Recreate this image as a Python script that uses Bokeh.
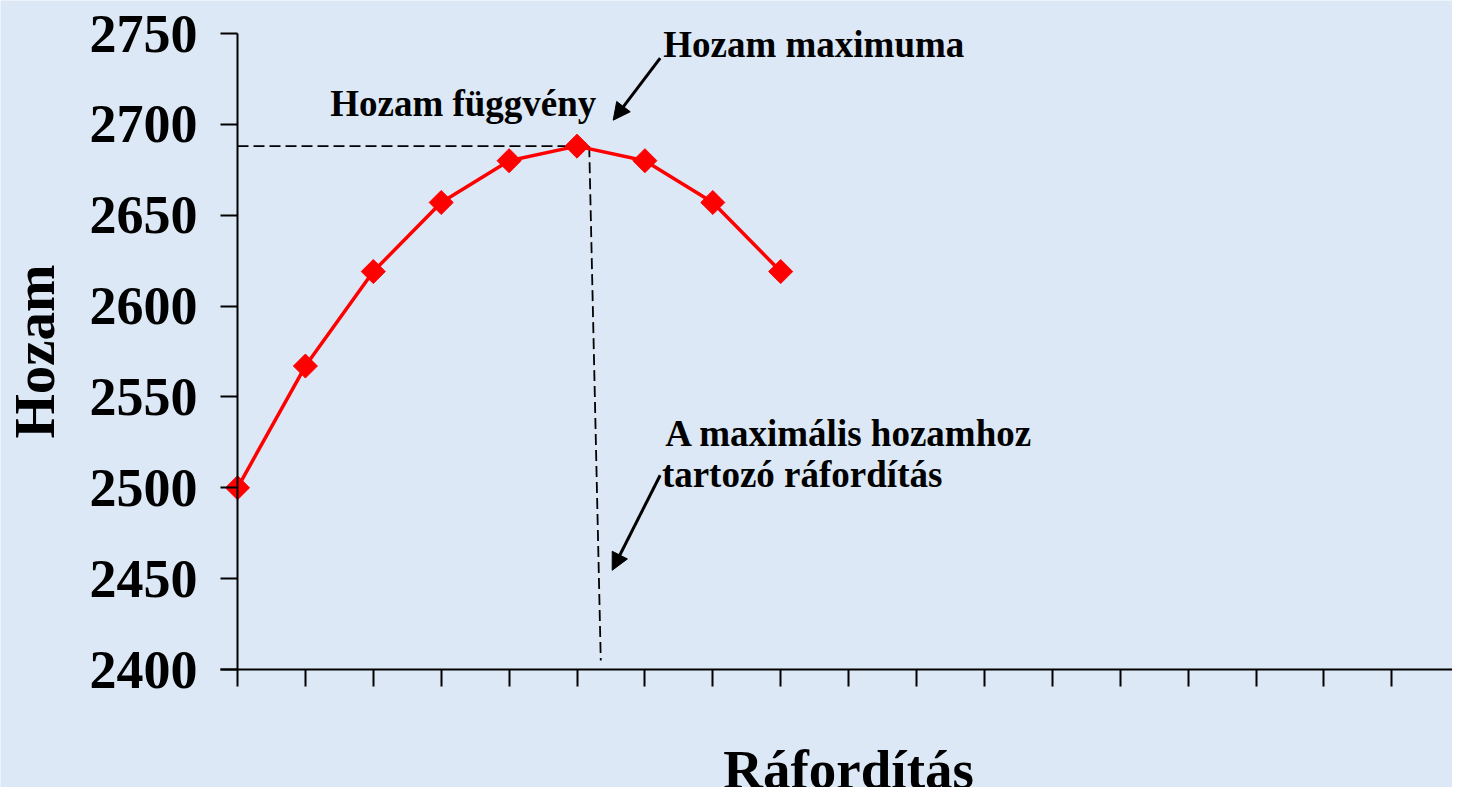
from bokeh.plotting import figure
from bokeh.models import FixedTicker, Label, Arrow, NormalHead, Range1d, CustomJSTickFormatter
from bokeh.embed import file_html
from bokeh.resources import INLINE
import math

# ---- data ----
raforditas = [0, 1, 2, 3, 4, 5, 6, 7, 8]
hozam = [2500, 2567, 2619, 2657, 2680, 2688, 2680, 2657, 2619]
x_ticks = list(range(0, 19))
y_ticks = [2400, 2450, 2500, 2550, 2600, 2650, 2700, 2750]
x_title = "Ráfordítás"
y_title = "Hozam"

# guide lines for the maximum (annotation)
peak_y = max(hozam)
guide_h_x = [0, 5.18]
guide_v_x = [5.18, 5.35]
guide_v_y = [peak_y, 2405]

FONT = "Liberation Serif"
BG = "#dce8f5"

W, H = 1452, 787
# layout: axis origin and scale (pixels)
X0_PX, XUNIT_PX = 237.0, 67.9
Y_TOP_PX, Y_BOT_PX = 33.0, 669.0
y_lo, y_hi = min(y_ticks), max(y_ticks)
YUNIT_PX = (Y_BOT_PX - Y_TOP_PX) / (y_hi - y_lo)

def xd(px):
    return (px - X0_PX) / XUNIT_PX

def yd(py):
    return y_hi - (py - Y_TOP_PX) / YUNIT_PX

# the frame covers the whole canvas; axes are placed at x=0 and y=2400
p = figure(width=W, height=H,
           x_range=Range1d(xd(0), xd(W)), y_range=Range1d(yd(H), yd(0)),
           output_backend="svg", toolbar_location=None,
           min_border_left=0, min_border_right=0,
           min_border_top=0, min_border_bottom=0)

p.background_fill_color = BG
p.border_fill_color = BG
p.outline_line_color = None
p.xgrid.visible = False
p.ygrid.visible = False

for ax in (p.xaxis, p.yaxis):
    ax.axis_line_color = "black"
    ax.axis_line_width = 2
    ax.major_tick_line_color = "black"
    ax.major_tick_line_width = 2
    ax.major_tick_in = 0
    ax.major_tick_out = 17
    ax.minor_tick_line_color = None

p.yaxis.fixed_location = 0
p.yaxis.bounds = (y_lo, y_hi)
p.yaxis.ticker = FixedTicker(ticks=y_ticks)
p.yaxis.major_label_text_font = FONT
p.yaxis.major_label_text_font_style = "bold"
p.yaxis.major_label_text_font_size = "54px"
p.yaxis.major_label_text_color = "black"
p.yaxis.major_label_standoff = 23

p.xaxis.fixed_location = y_lo
p.xaxis.bounds = (xd(220), xd(W))
p.xaxis.ticker = FixedTicker(ticks=x_ticks)
p.xaxis.formatter = CustomJSTickFormatter(code="return ''")
p.xaxis.major_label_text_font_size = "1px"
p.xaxis.major_label_standoff = 0

def lab(x, y, t, size, align="left", angle=0.0):
    p.add_layout(Label(x=x, y=y, text=t, text_font=FONT, text_font_style="bold",
                       text_font_size=size, text_color="black", angle=angle,
                       text_align=align, text_baseline="alphabetic"))

# axis titles
lab(9, yd(768.5), x_title, "55px", align="center")
lab(xd(34), yd(351), y_title, "57px", align="center", angle=math.pi / 2)

# dashed guides
p.line(guide_h_x, [peak_y, peak_y], line_color="black", line_width=1.8, line_dash="11 5")
p.line(guide_v_x, guide_v_y, line_color="black", line_width=1.8, line_dash="11 5")

# curve
p.line(raforditas, hozam, line_color="#ff0000", line_width=3.5)
p.scatter(raforditas, hozam, marker="square", size=17, angle=math.pi / 4,
          fill_color="#ff0000", line_color="#ff0000")

# annotations
lab(6.27, 2744.0, "Hozam maximuma", "37px")
lab(1.365, 2711.5, "Hozam függvény", "37px")
lab(6.30, 2530.0, "A maximális hozamhoz", "37px")
lab(6.25, 2507.5, "tartozó ráfordítás", "37px")

p.add_layout(Arrow(x_start=6.225, y_start=2736.4, x_end=5.533, y_end=2702.3,
                   line_color="black", line_width=3,
                   end=NormalHead(size=17, fill_color="black", line_color="black")))
p.add_layout(Arrow(x_start=6.225, y_start=2506.9, x_end=5.518, y_end=2454.6,
                   line_color="black", line_width=3,
                   end=NormalHead(size=17, fill_color="black", line_color="black")))

open("out.html", "w").write(file_html(p, INLINE))
